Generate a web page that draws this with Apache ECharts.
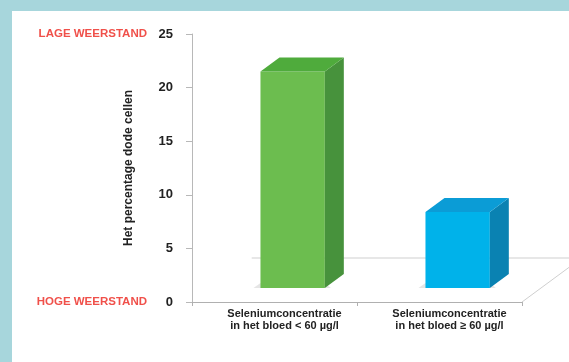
<!DOCTYPE html>
<html>
<head>
<meta charset="utf-8">
<script src="https://cdn.jsdelivr.net/npm/echarts@6/dist/echarts.min.js"></script>
<style>
  html, body { margin: 0; padding: 0; background: #a7d6dc; }
  #chart { position: absolute; left: 12px; top: 11px; width: 557px; height: 351px; background: #fff; }
</style>
</head>
<body>
<div id="chart"></div>
<script>
// data
const categories = ['Seleniumconcentratie\nin het bloed < 60 µg/l', 'Seleniumconcentratie\nin het bloed ≥ 60 µg/l'];
const values = [20.2, 7.1];
const yTicks = [0, 5, 10, 15, 20, 25];
const endLabels = { 25: 'LAGE WEERSTAND', 0: 'HOGE WEERSTAND' };

// front / top / side colours per bar
const faceColors = [
  { front: '#6cbd4f', top: '#4fab3c', side: '#47923c' },
  { front: '#00b2ea', top: '#0b9cd6', side: '#0a82b2' }
];

const DX = 19, DY = 14; // 3d depth offset

const chart = echarts.init(document.getElementById('chart'));

function renderBar(params, api) {
  const i = api.value(0);
  const base = api.coord([i, 0]);
  const top = api.coord([i, api.value(1)]);
  const band = api.size([1, 0])[0];
  const w = band * 0.39;
  const cx = base[0] + band * 0.11;
  const x0 = cx - w / 2, x1 = cx + w / 2;
  const yb = base[1] - DY, yt = top[1] - DY;
  const c = faceColors[i];
  return {
    type: 'group',
    children: [
      { type: 'polygon', shape: { points: [[x0 - 7, yb], [x0, yb - 5], [x1, yb - 5], [x1 + 6, yb]] }, style: { fill: 'rgba(0,0,0,0.10)' } },
      { type: 'rect', shape: { x: x0, y: yt, width: w, height: yb - yt }, style: { fill: c.front } },
      { type: 'polygon', shape: { points: [[x1, yt], [x1 + DX, yt - DY], [x1 + DX, yb - DY], [x1, yb]] }, style: { fill: c.side } },
      { type: 'polygon', shape: { points: [[x0, yt], [x0 + DX, yt - DY], [x1 + DX, yt - DY], [x1, yt]] }, style: { fill: c.top } }
    ]
  };
}

function renderFloor(params, api) {
  const cs = params.coordSys;
  const yb = cs.y + cs.height;
  const depth = 44, dx = depth * DX / DY;
  const st = { stroke: '#cfcfcf', lineWidth: 1, fill: null };
  return {
    type: 'group',
    children: [
      { type: 'line', shape: { x1: cs.x + dx, y1: yb - depth, x2: cs.x + cs.width + dx, y2: yb - depth }, style: st },
      { type: 'line', shape: { x1: cs.x + cs.width, y1: yb, x2: cs.x + cs.width + dx, y2: yb - depth }, style: st }
    ]
  };
}

const option = {
  animation: false,
  grid: { left: 180, top: 23, width: 330, height: 268 },
  xAxis: {
    type: 'category',
    data: categories,
    axisLine: { lineStyle: { color: '#b0b0b0' } },
    axisTick: { show: true, length: 4, lineStyle: { color: '#b0b0b0' } },
    axisLabel: {
      color: '#222',
      fontFamily: 'Liberation Sans',
      fontWeight: 'bold',
      fontSize: 11,
      lineHeight: 12,
      margin: 6,
      padding: [0, 0, 0, 20]
    }
  },
  yAxis: {
    type: 'value',
    min: 0,
    max: 25,
    interval: 5,
    name: 'Het percentage dode cellen',
    nameLocation: 'middle',
    nameGap: 57,
    nameMoveOverlap: false,
    nameTextStyle: { color: '#222', fontFamily: 'Liberation Sans', fontWeight: 'bold', fontSize: 12 },
    splitLine: { show: false },
    axisLine: { show: true, lineStyle: { color: '#b8b8b8' } },
    axisTick: { show: true, length: 6, lineStyle: { color: '#b8b8b8' } },
    axisLabel: {
      margin: 19,
      formatter: function (v) {
        const r = endLabels[v];
        return (r ? '{r|' + r + '}' : '') + '{n|' + v + '}';
      },
      rich: {
        r: { color: '#f0504a', fontFamily: 'Liberation Sans', fontWeight: 'bold', fontSize: 11.5 },
        n: { color: '#222', fontFamily: 'Liberation Sans', fontWeight: 'bold', fontSize: 13, width: 26, align: 'right' }
      }
    }
  },
  series: [
    {
      type: 'custom',
      z: 1,
      silent: true,
      renderItem: renderFloor,
      data: [[0, 0]]
    },
    {
      type: 'custom',
      z: 2,
      renderItem: renderBar,
      encode: { x: 0, y: 1 },
      data: values.map((v, i) => [i, v])
    }
  ]
};
chart.setOption(option);
</script>
</body>
</html>
